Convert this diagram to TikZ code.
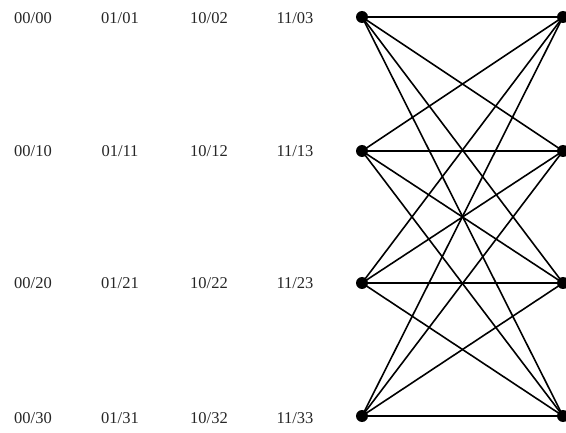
\documentclass[tikz,border=0pt]{standalone}
\usepackage{fontspec}
\setmainfont{Liberation Serif}
\begin{document}
\begin{tikzpicture}[x=1pt,y=1pt,
  dot/.style={circle,fill=black,inner sep=0pt,minimum size=12pt},
  lbl/.style={text=black!85,font=\fontsize{16.5}{19}\selectfont,inner sep=0pt},
  hline/.style={line width=2.6pt},
  dline/.style={line width=1.6pt}]
\useasboundingbox (0,0) rectangle (566,432);
\foreach \i/\y in {0/415,1/281,2/149,3/16}{
  \node[dot] (L\i) at (362,\y) {};
  \node[dot] (R\i) at (563,\y) {};
}
\foreach \i/\y in {0/414,1/281,2/149,3/14}{
  \node[lbl] (a\i) at (33,\y) {00/\i0};
  \node[lbl] (b\i) at (120,\y) {01/\i1};
  \node[lbl] (c\i) at (209,\y) {10/\i2};
  \node[lbl] (d\i) at (295,\y) {11/\i3};
}
\foreach \i in {0,1,2,3}{
  \draw[hline] (L\i.center) -- (R\i.center);
  \foreach \j in {0,1,2,3}{
    \ifnum\i=\j\else
      \draw[dline] (L\i.center) -- (R\j.center);
    \fi
  }
}
\end{tikzpicture}
\end{document}
